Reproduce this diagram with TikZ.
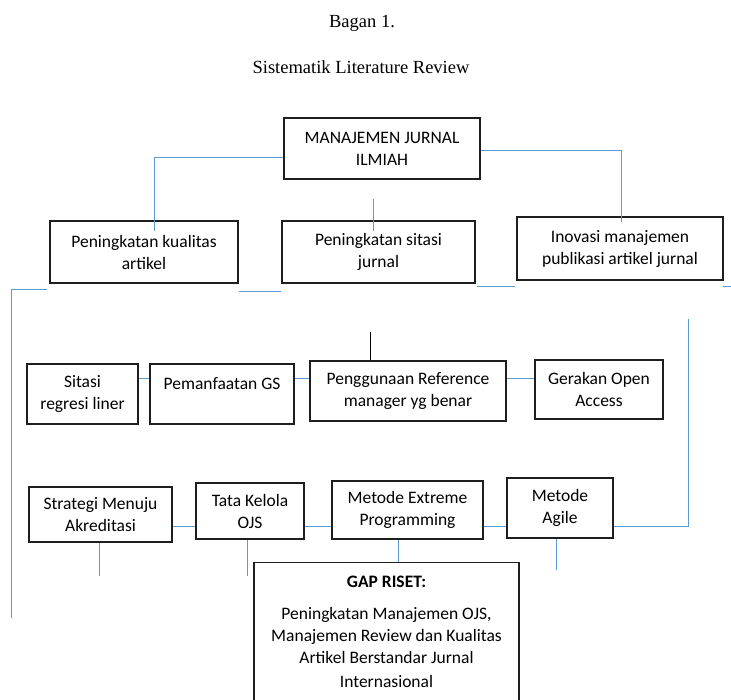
\documentclass[tikz,border=0pt]{standalone}
\usepackage{fontspec}
\setmainfont{Carlito}
\newfontfamily\titlefont{Liberation Serif}
\usepackage{tikz}
\usepackage{color}
\definecolor{wordBlue}{RGB}{91,155,213}
\definecolor{boxBorder}{RGB}{30,30,30}
\newcommand{\boxfont}{\fontsize{17.5}{22}\selectfont}
\tikzset{
	box/.style={draw=boxBorder, line width=1.3pt, align=center, inner sep=2pt, font=\boxfont},
	link/.style={wordBlue, line width=1pt},
}

\begin{document}
\begin{tikzpicture}[x=1pt, y=-1pt]
		\clip (0,0) rectangle (731,699);
		\fill[white] (0,0) rectangle (731,699);

		\node[font=\titlefont\fontsize{18.5}{22}\selectfont] (bagan) at (362,23) {Bagan 1.};
		\node[font=\titlefont\fontsize{18.5}{22}\selectfont] (judul) at (361,67) {Sistematik Literature Review};

		% baris pertama
		\node[box, minimum width=196, minimum height=61] (top) at (382,148.5) {MANAJEMEN JURNAL\\ILMIAH};
		\node[box, minimum width=188, minimum height=62] (kualitas) at (144,252) {Peningkatan kualitas\\artikel};
		\node[box, minimum width=193, minimum height=62] (sitasi) at (378.5,252) {Peningkatan sitasi\\jurnal};
		\node[box, minimum width=206, minimum height=63] (inovasi) at (620,248.5) {Inovasi manajemen\\publikasi artikel jurnal};

		% baris kedua
		\node[box, minimum width=111, minimum height=60] (regresi) at (82.5,394) {Sitasi\\regresi liner};
		\node[box, minimum width=144, minimum height=60] (gs) at (222,394) {Pemanfaatan GS\\~};
		\node[box, minimum width=196, minimum height=60] (refman) at (408,391) {Penggunaan Reference\\manager yg benar};
		\node[box, minimum width=128, minimum height=59] (openaccess) at (599,389.5) {Gerakan Open\\Access};

		% baris ketiga
		\node[box, minimum width=143, minimum height=55] (akreditasi) at (100.5,514.5) {Strategi Menuju\\Akreditasi};
		\node[box, minimum width=108, minimum height=56] (ojs) at (250,511) {Tata Kelola\\OJS};
		\node[box, minimum width=151, minimum height=58] (xp) at (407.5,510) {Metode Extreme\\Programming};
		\node[box, minimum width=106, minimum height=60] (agile) at (560,508) {Metode\\Agile};

		\node[box, anchor=north, minimum width=265, minimum height=139, inner ysep=8pt] (gap) at (386.5,562)
			{\textbf{GAP RISET:}\\[10pt]Peningkatan Manajemen OJS,\\Manajemen Review dan Kualitas\\Artikel Berstandar Jurnal\\[2pt]Internasional};

		% garis biru
		\coordinate (leftend) at (11.5,618);
		\coordinate (rightend) at (688,319);
		\draw[link] ([yshift=-8.5]top.west) -| ([xshift=10,yshift=-11]kualitas.north);
		\draw[link] ([yshift=-1.5]top.east) -| ([xshift=1,yshift=-6]inovasi.north);
		\draw[link] ([xshift=-5.5,yshift=21]sitasi.north) -- ([xshift=-5.5,yshift=-11]sitasi.north);

		\draw[link] ([xshift=-2,yshift=-6]kualitas.south west) -| (leftend);
		\draw[link] ([yshift=-8]kualitas.south east) -- ([yshift=-8]sitasi.south west);
		\draw[link] ([xshift=1,yshift=-3]sitasi.south east) -- ([xshift=-1,yshift=-6]inovasi.south west);
		\draw[link] ([xshift=-1,yshift=-6]inovasi.south east) -- ++(9,0);

		\draw[link] ([yshift=16]regresi.east) -- ([yshift=16]gs.west);
		\draw[link] ([yshift=16]gs.east) -- ([yshift=13]refman.west);
		\draw[link] ([yshift=13]refman.east) -- ([yshift=11.5]openaccess.west);
		\draw[line width=1pt] ([xshift=-38]refman.north) -- ++(0,-28);

		\draw[link] ([yshift=-11.5]akreditasi.east) -- ([yshift=-15]ojs.west);
		\draw[link] ([yshift=-15]ojs.east) -- ([yshift=-16]xp.west);
		\draw[link] ([yshift=-16]xp.east) -- ([yshift=-18]agile.west);
		\draw[link] ([yshift=-18]agile.east) -| (rightend);

		\draw[link] ([xshift=-1.5]akreditasi.south) -- ++(0,33);
		\draw[link] ([xshift=-3]ojs.south) -- ++(0,36);
		\draw[link] ([xshift=-9.5]xp.south) -- ([xshift=11.5]gap.north);
		\draw[link] ([xshift=-4]agile.south) -- ++(0,31);
	\end{tikzpicture}
\end{document}
